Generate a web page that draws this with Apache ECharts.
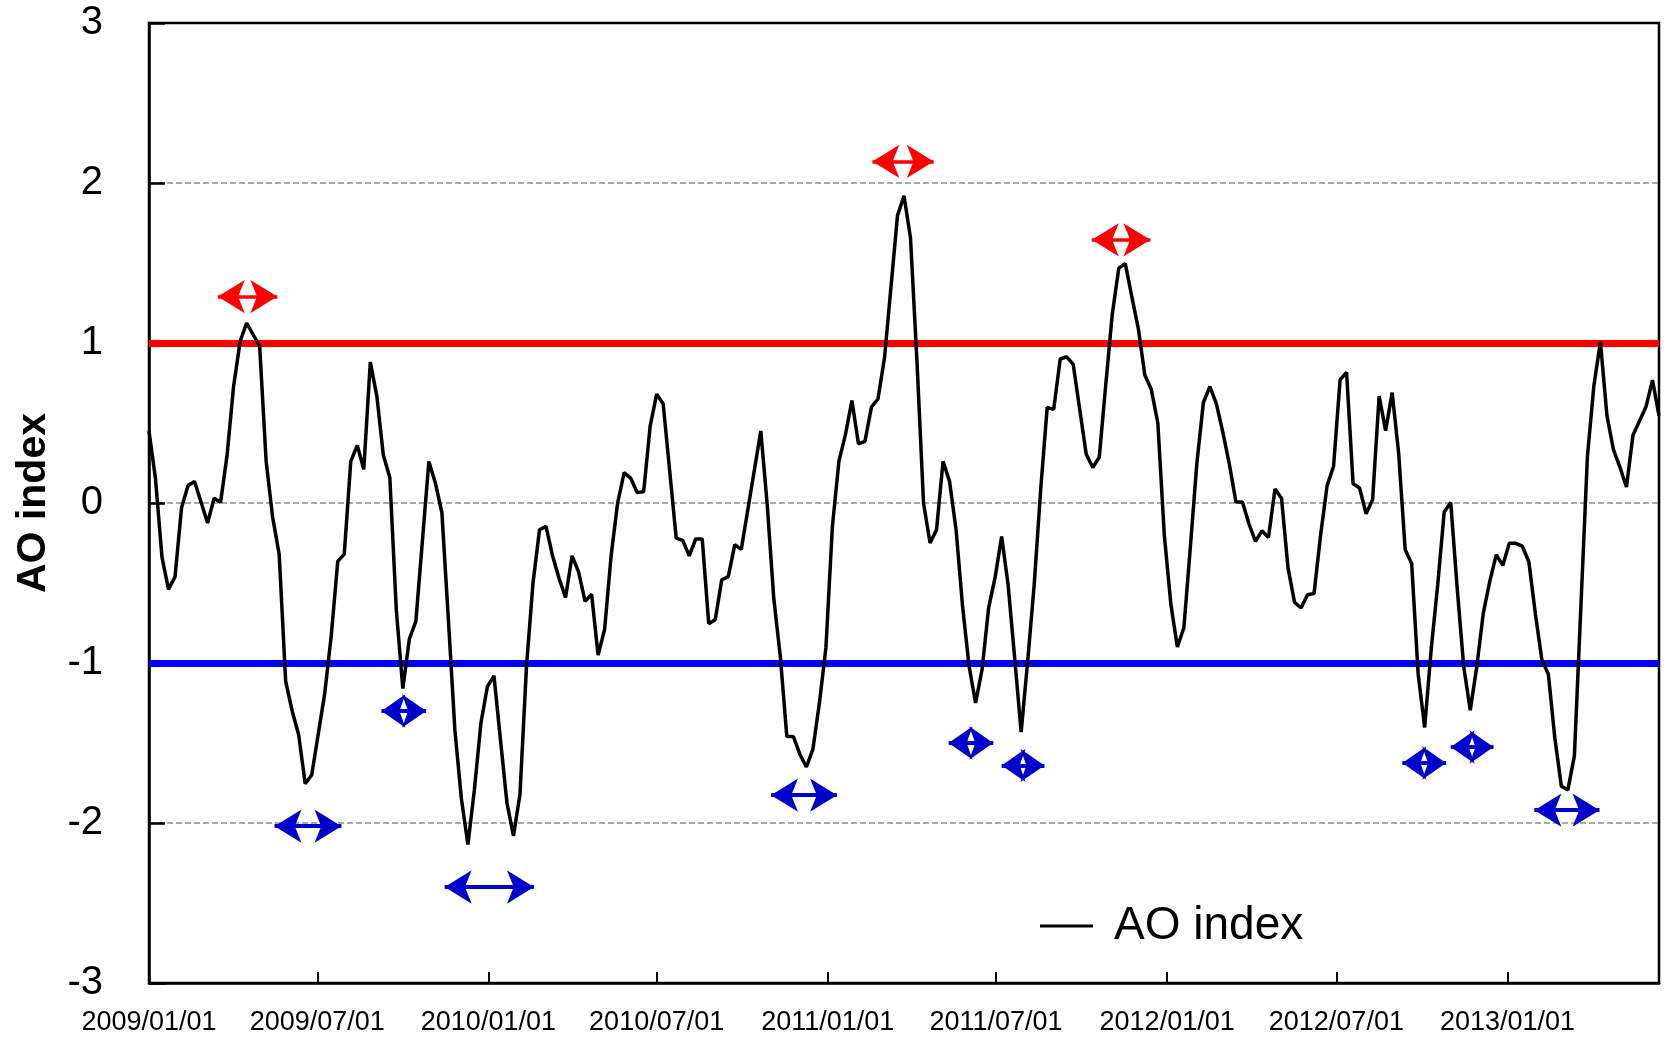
<!DOCTYPE html>
<html>
<head>
<meta charset="utf-8">
<script src="https://cdn.jsdelivr.net/npm/echarts@6/dist/echarts.min.js"></script>
<style>
html,body{margin:0;padding:0;background:#fff;}
#chart{width:1672px;height:1038px;}
</style>
</head>
<body>
<div id="chart"></div>
<script>
// ---------------- DATA ----------------
const seriesName = 'AO index';
const startDate = '2009-01-01';          // week 0 of the weekly series
const axisMinDate = '2009-01-01';
const axisMaxDate = '2013-06-13';
const xTickLabels = ['2009/01/01','2009/07/01','2010/01/01','2010/07/01','2011/01/01',
                     '2011/07/01','2012/01/01','2012/07/01','2013/01/01'];
const yMin = -3, yMax = 3, yStep = 1;
const upperThreshold = 1;
const lowerThreshold = -1;

// [week number since startDate, AO index] (vertices)
const aoWeekly = [
  [0,0.45],[1,0.15],[2,-0.34],[3,-0.54],[4,-0.46],[5,-0.03],[6,0.11],[7,0.135],
  [9,-0.125],[10,0.03],[11,0.005],[12,0.30],[13,0.73],[14,1.01],[15,1.125],
  [17,0.98],[18,0.26],[19,-0.09],[20,-0.32],[21,-1.115],[22,-1.30],[23,-1.45],[24,-1.755],[25,-1.70],
  [27,-1.19],[28,-0.83],[29,-0.365],[30,-0.32],[31,0.26],[32,0.36],[33,0.21],[34,0.88],[35,0.67],
  [36,0.30],[37,0.16],[38,-0.67],[39,-1.16],[40,-0.85],[41,-0.74],
  [43,0.26],[44,0.125],[45,-0.06],[46,-0.73],[47,-1.42],[48,-1.85],[49,-2.135],[50,-1.79],
  [51,-1.375],[52,-1.146],[53,-1.08],[54,-1.48],[55,-1.875],[56,-2.08],[57,-1.82],[58,-1.02],
  [59,-0.5],[60,-0.167],[61,-0.146],[62,-0.33],[63,-0.47],[64,-0.59],[65,-0.33],[66,-0.43],
  [67,-0.615],[68,-0.57],[69,-0.95],[70,-0.79],[71,-0.33],[72,0.0],[73,0.19],[74,0.156],
  [75,0.066],[76,0.07],[77,0.48],[78,0.68],[79,0.62],
  [81,-0.22],[82,-0.234],[83,-0.33],[84,-0.225],[85,-0.225],[86,-0.754],[87,-0.73],[88,-0.48],
  [89,-0.46],[90,-0.26],[91,-0.29],
  [94,0.45],[95,-0.02],[96,-0.6],[97,-0.96],[98,-1.46],[99,-1.46],[100,-1.57],[101,-1.65],
  [102,-1.54],[103,-1.25],[104,-0.906],[105,-0.146],[106,0.26],[107,0.427],[108,0.64],
  [109,0.37],[110,0.385],[111,0.60],[112,0.65],[113,0.906],
  [115,1.796],[116,1.92],[117,1.656],[118,0.88],[119,0.0],[120,-0.25],[121,-0.167],[122,0.26],
  [123,0.135],[124,-0.167],[125,-0.646],[126,-1.02],[127,-1.25],[128,-1.04],[129,-0.656],
  [130,-0.465],[131,-0.21],[132,-0.513],[133,-0.967],[134,-1.432],[135,-0.99],[136,-0.513],
  [137,0.084],[138,0.597],[139,0.585],[140,0.90],[141,0.914],[142,0.866],[143,0.585],
  [144,0.305],[145,0.222],[146,0.286],[147,0.74],[148,1.18],[149,1.468],[150,1.496],
  [151,1.29],[152,1.09],[153,0.80],[154,0.709],[155,0.50],[156,-0.203],[157,-0.632],
  [158,-0.90],[159,-0.78],[160,-0.274],[161,0.25],[162,0.628],[163,0.728],[164,0.62],
  [165,0.44],[166,0.24],[167,0.007],[168,0.007],[169,-0.13],[170,-0.24],[171,-0.174],
  [172,-0.215],[173,0.088],[174,0.03],[175,-0.405],[176,-0.62],[177,-0.656],[178,-0.573],
  [179,-0.566],[180,-0.203],[181,0.107],[182,0.23],[183,0.77],[184,0.816],[185,0.12],
  [186,0.094],[187,-0.067],[188,0.022],[189,0.668],[190,0.452],[191,0.69],[192,0.312],
  [193,-0.29],[194,-0.379],[195,-1.07],[196,-1.403],[197,-0.913],[198,-0.512],[199,-0.056],
  [200,0.004],[201,-0.535],[202,-1.024],[203,-1.296],[204,-1.024],[205,-0.69],[206,-0.49],
  [207,-0.323],[208,-0.39],[209,-0.252],[210,-0.252],[211,-0.27],[212,-0.367],[213,-0.69],
  [214,-0.98],[215,-1.07],[216,-1.47],[217,-1.77],[218,-1.793],[219,-1.58],[220,-0.646],
  [221,0.29],[222,0.735],[223,1.007],[224,0.546],[225,0.334],[226,0.223],[227,0.10],
  [228,0.423],[229,0.512],[230,0.601],[231,0.768],[232,0.546]
];

// positive AO events (red arrows): [start, end, level]
const positiveEvents = [
  ['2009-03-16','2009-05-19',1.29],
  ['2011-02-18','2011-04-25',2.135],
  ['2011-10-12','2011-12-14',1.645]
];
// negative AO events (blue arrows): [start, end, level]
const negativeEvents = [
  ['2009-05-16','2009-07-27',-2.02],
  ['2009-09-08','2009-10-26',-1.30],
  ['2009-11-15','2010-02-19',-2.40],
  ['2010-11-01','2011-01-11',-1.826],
  ['2011-05-11','2011-06-28',-1.50],
  ['2011-07-07','2011-08-22',-1.64],
  ['2012-09-10','2012-10-27',-1.625],
  ['2012-11-01','2012-12-17',-1.525],
  ['2013-01-30','2013-04-10',-1.92]
];

// ---------------- BUILD ----------------
const DAY = 86400000;
function ts(s){ const p = s.split(/[-\/]/).map(Number); return Date.UTC(p[0], p[1]-1, p[2]); }
const t0 = ts(startDate);
const lineData = aoWeekly.map(([w, v]) => [t0 + w * 7 * DAY, v]);
const xTickValues = xTickLabels.map(ts);
const labelByValue = {};
xTickValues.forEach((t, i) => { labelByValue[t] = xTickLabels[i]; });

const FONT = "'Liberation Sans', Arial, sans-serif";

function arrowSeries(name, events, color, width){
  return {
    name: name, type: 'line', data: [], z: 4, silent: true,
    markLine: {
      silent: true, animation: false,
      symbol: ['arrow', 'arrow'], symbolSize: 20,
      label: {show: false},
      lineStyle: {color: color, width: width, type: 'solid'},
      emphasis: {disabled: true},
      data: events.map(([a, b, y]) => {
        const days = (ts(b) - ts(a)) / DAY;
        const head = {symbol: 'arrow', symbolSize: days > 55 ? [25, 27] : [25, 24]};
        return [
          Object.assign({coord: [ts(a), y]}, head),
          Object.assign({coord: [ts(b), y]}, head)
        ];
      })
    }
  };
}

const chart = echarts.init(document.getElementById('chart'), null, {renderer: 'canvas'});
chart.setOption({
  animation: false,
  backgroundColor: '#ffffff',
  textStyle: {fontFamily: FONT},
  grid: {
    left: 149, top: 23, right: 13, bottom: 55,
    show: true, borderColor: '#000', borderWidth: 2.5,
    containLabel: false, outerBoundsMode: 'none'
  },
  legend: {
    data: [seriesName],
    left: 1040, top: 903, padding: 0,
    icon: 'rect',
    itemWidth: 53, itemHeight: 3, itemGap: 0,
    selectedMode: false,
    itemStyle: {color: '#000'},
    textStyle: {fontSize: 46, color: '#000', fontFamily: FONT, padding: [0, 0, 0, 16]}
  },
  xAxis: {
    type: 'value',
    min: ts(axisMinDate), max: ts(axisMaxDate),
    axisLine: {show: true, onZero: false, lineStyle: {color: '#000', width: 2.5}},
    axisTick: {show: true, inside: true, length: 11, lineStyle: {color: '#000', width: 2}, customValues: xTickValues},
    axisLabel: {
      customValues: xTickValues,
      formatter: v => labelByValue[v] || '',
      fontSize: 27, color: '#000', fontFamily: FONT, margin: 26,
      hideOverlap: false
    },
    splitLine: {show: false}
  },
  yAxis: {
    type: 'value', min: yMin, max: yMax, interval: yStep,
    name: seriesName, nameLocation: 'middle', nameRotate: 90, nameGap: 95,
    nameTextStyle: {fontSize: 41, fontWeight: 'bold', color: '#000', fontFamily: FONT},
    axisLine: {show: true, onZero: false, lineStyle: {color: '#000', width: 2.5}},
    axisTick: {show: true, inside: true, length: 16, lineStyle: {color: '#000', width: 2.5}},
    axisLabel: {fontSize: 40, color: '#000', fontFamily: FONT, margin: 46},
    splitLine: {show: true, showMinLine: false, showMaxLine: false,
                lineStyle: {color: '#8c8c8c', width: 1.5, type: [6, 3]}}
  },
  series: [
    {
      name: 'thresholds', type: 'line', data: [], z: 2, silent: true,
      markLine: {
        silent: true, animation: false, symbol: 'none', label: {show: false},
        emphasis: {disabled: true},
        data: [
          {yAxis: upperThreshold, lineStyle: {color: '#ff0000', width: 7, type: 'solid'}},
          {yAxis: lowerThreshold, lineStyle: {color: '#0000ff', width: 7, type: 'solid'}}
        ]
      }
    },
    arrowSeries('positive events', positiveEvents, '#ff0000', 3.5),
    arrowSeries('negative events', negativeEvents, '#0000cc', 4),
    {
      name: seriesName, type: 'line', data: lineData, z: 5,
      symbol: 'none', showSymbol: false, silent: true,
      lineStyle: {color: '#000', width: 3.5},
      itemStyle: {color: '#000'}
    }
  ]
});
</script>
</body>
</html>
